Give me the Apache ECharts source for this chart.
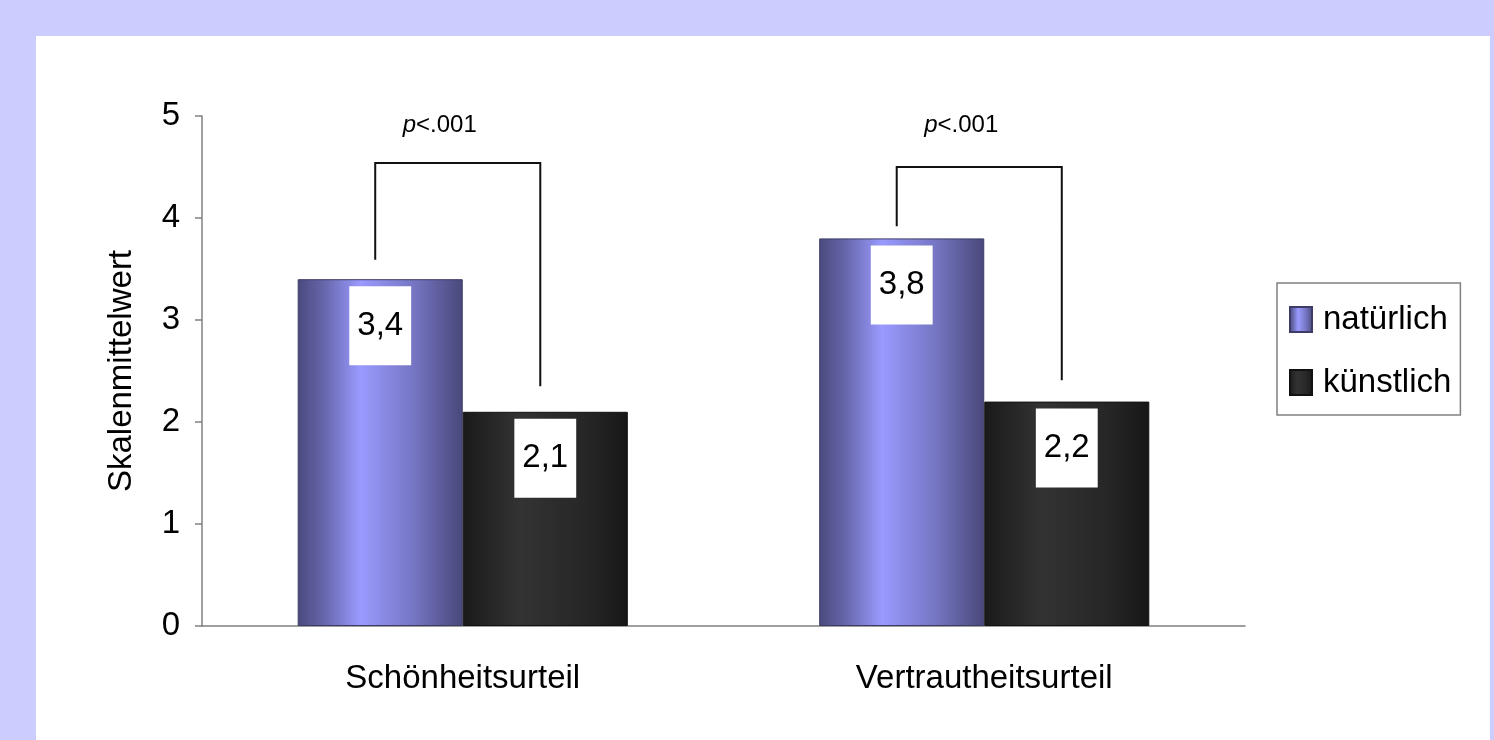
<!DOCTYPE html>
<html>
<head>
<meta charset="utf-8">
<script src="https://cdn.jsdelivr.net/npm/echarts@6/dist/echarts.min.js"></script>
<style>
  html, body { margin: 0; padding: 0; width: 1494px; height: 740px; overflow: hidden; background: #ccccff; }
  #panel { position: absolute; left: 36px; top: 36px; width: 1454px; height: 704px; background: #ffffff; }
  #chart { position: absolute; left: 0; top: 0; width: 1494px; height: 740px; }
</style>
</head>
<body>
<div id="panel"></div>
<div id="chart"></div>
<script>
// Kategorien und Mittelwerte
const categories = ['Schönheitsurteil', 'Vertrautheitsurteil'];
const natuerlich = [3.4, 3.8];
const kuenstlich = [2.1, 2.2];
const seriesNames = ['natürlich', 'künstlich'];

// Skala der y-Achse
const yMin = 0;
const yMax = 5;
const yStep = 1;
const yTitle = 'Skalenmittelwert';

// Signifikanzklammern: Höhe der Klammer und Enden der beiden Schenkel (Skalenwerte)
const sigLabel = ['<.001', '<.001'];
const bracketTop = [4.54, 4.50];
const bracketLeftEnd = [3.59, 3.92];
const bracketRightEnd = [2.35, 2.41];

const FONT = '"Liberation Sans", Arial, sans-serif';
const CATEGORY_GAP = 0.367;

const purpleGradient = new echarts.graphic.LinearGradient(0, 0, 1, 0, [
  { offset: 0, color: '#4a4a7e' },
  { offset: 0.15, color: '#6464a8' },
  { offset: 0.38, color: '#9a9aff' },
  { offset: 0.7, color: '#7676c4' },
  { offset: 1, color: '#48487a' }
]);
const blackGradient = new echarts.graphic.LinearGradient(0, 0, 1, 0, [
  { offset: 0, color: '#1a1a1a' },
  { offset: 0.35, color: '#333333' },
  { offset: 0.75, color: '#262626' },
  { offset: 1, color: '#171717' }
]);

const valueLabel = {
  show: true,
  position: 'insideTop',
  distance: 7,
  formatter: p => p.value.toFixed(1).replace('.', ','),
  backgroundColor: '#ffffff',
  padding: [23, 8, 23, 8],
  color: '#000000',
  fontFamily: FONT,
  fontSize: 33
};

const chart = echarts.init(document.getElementById('chart'), null, { renderer: 'canvas' });

const option = {
  animation: false,
  backgroundColor: 'transparent',
  textStyle: { fontFamily: FONT },
  grid: { left: 202, right: 249, top: 116, bottom: 114, containLabel: false },
  legend: {
    orient: 'vertical',
    left: 1277,
    top: 283,
    padding: [20, 9, 16, 12],
    itemGap: 30,
    itemWidth: 22,
    itemHeight: 25,
    icon: 'rect',
    borderColor: '#808080',
    borderWidth: 1.5,
    backgroundColor: '#ffffff',
    textStyle: { fontFamily: FONT, fontSize: 33, color: '#000000', padding: [0, 0, 0, 6] },
    data: seriesNames
  },
  xAxis: {
    type: 'category',
    data: categories,
    axisLine: { show: true, lineStyle: { color: '#808080', width: 1.5 } },
    axisTick: { show: false },
    axisLabel: { margin: 36, fontFamily: FONT, fontSize: 33, color: '#000000' },
    splitLine: { show: false }
  },
  yAxis: {
    type: 'value',
    min: yMin,
    max: yMax,
    interval: yStep,
    name: yTitle,
    nameLocation: 'middle',
    nameRotate: 90,
    nameGap: 64,
    nameTextStyle: { fontFamily: FONT, fontSize: 33, color: '#000000' },
    axisLine: { show: true, lineStyle: { color: '#808080', width: 1.5 } },
    axisTick: { show: true, inside: false, length: 7, lineStyle: { color: '#808080', width: 1.5 } },
    axisLabel: { margin: 22, fontFamily: FONT, fontSize: 33, color: '#000000' },
    splitLine: { show: false }
  },
  series: [
    {
      name: seriesNames[0],
      type: 'bar',
      data: natuerlich,
      barGap: '0%',
      barCategoryGap: (CATEGORY_GAP * 100) + '%',
      itemStyle: { color: purpleGradient, borderColor: '#3c3c66', borderWidth: 1 },
      label: valueLabel
    },
    {
      name: seriesNames[1],
      type: 'bar',
      data: kuenstlich,
      barGap: '0%',
      barCategoryGap: (CATEGORY_GAP * 100) + '%',
      itemStyle: { color: blackGradient, borderColor: '#111111', borderWidth: 1 },
      label: valueLabel
    }
  ]
};

chart.setOption(option);

// Klammern über den Balkenpaaren, aus den Achsen berechnet
function drawBrackets() {
  const elements = [];
  const c0 = chart.convertToPixel({ xAxisIndex: 0, yAxisIndex: 0 }, [0, 0]);
  const c1 = chart.convertToPixel({ xAxisIndex: 0, yAxisIndex: 0 }, [1, 0]);
  const band = c1[0] - c0[0];
  const barW = band * (1 - CATEGORY_GAP) / 2;
  const shift = -5;
  categories.forEach((cat, i) => {
    const center = chart.convertToPixel({ xAxisIndex: 0 }, i);
    const xl = center - barW / 2 + shift;
    const xr = center + barW / 2 + shift;
    const yTop = chart.convertToPixel({ yAxisIndex: 0 }, bracketTop[i]);
    const yL = chart.convertToPixel({ yAxisIndex: 0 }, bracketLeftEnd[i]);
    const yR = chart.convertToPixel({ yAxisIndex: 0 }, bracketRightEnd[i]);
    elements.push({
      type: 'polyline',
      silent: true,
      shape: { points: [[xl, yL], [xl, yTop], [xr, yTop], [xr, yR]] },
      style: { stroke: '#111111', lineWidth: 2, fill: null }
    });
    const yText = chart.convertToPixel({ yAxisIndex: 0 }, 4.91);
    elements.push({
      type: 'text',
      silent: true,
      x: (xl + xr) / 2 - 18,
      y: yText,
      style: {
        text: '{p|p}{r|' + sigLabel[i] + '}',
        align: 'center',
        verticalAlign: 'middle',
        rich: {
          p: { fontFamily: FONT, fontSize: 24, fontStyle: 'italic', fill: '#000000' },
          r: { fontFamily: FONT, fontSize: 24, fill: '#000000' }
        }
      }
    });
  });
  chart.setOption({ graphic: { elements: elements } });
}
drawBrackets();
</script>
</body>
</html>
